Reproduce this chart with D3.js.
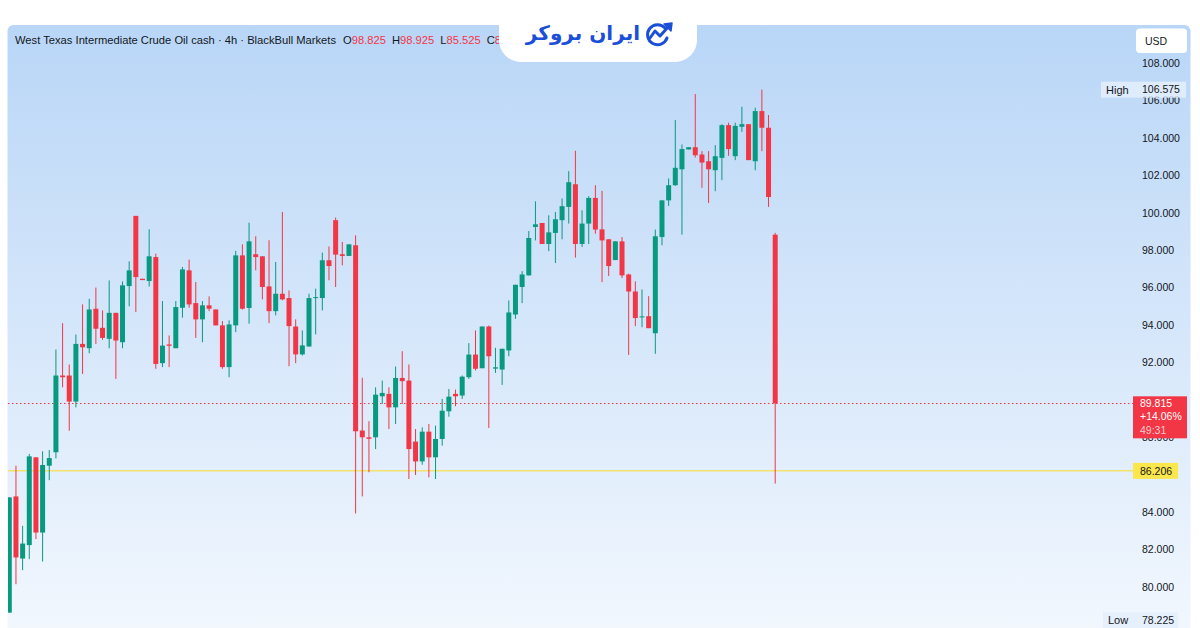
<!DOCTYPE html>
<html>
<head>
<meta charset="utf-8">
<script src="https://cdn.jsdelivr.net/npm/d3@7"></script>
<style>
html, body { margin: 0; padding: 0; background: #fff; }
svg { display: block; font-family: "Liberation Sans", Arial, sans-serif; }
</style>
</head>
<body>
<div id="chart"></div>
<script>
const width = 1200,
    height = 628;

// 4h candles (oldest first)
const opens = [78.63, 84.84, 81.52, 82.24, 86.93, 82.91, 86.48, 87.20, 91.30, 91.30,
    89.91, 92.99, 92.76, 94.87, 93.85, 93.26, 94.65, 93.08, 96.08, 99.83,
    96.47, 96.35, 97.63, 91.96, 92.96, 92.76, 94.92, 96.92, 95.17, 94.30,
    95.05, 94.83, 93.98, 91.75, 93.98, 97.72, 94.91, 97.78, 97.67, 96.06,
    94.74, 95.67, 95.44, 93.92, 92.43, 92.85, 95.44, 95.44, 97.46, 99.60,
    97.78, 97.69, 98.26, 88.36, 88.00, 88.00, 90.19, 90.32, 89.60, 91.17,
    91.03, 87.77, 86.71, 88.30, 86.93, 87.91, 89.39, 90.32, 90.23, 91.21,
    92.42, 91.69, 93.92, 91.67, 91.62, 92.64, 94.56, 96.03, 96.65, 99.24,
    99.45, 98.33, 98.92, 99.60, 100.31, 101.52, 98.33, 99.42, 100.79, 99.11,
    98.58, 97.47, 98.47, 96.70, 95.79, 94.42, 94.47, 93.56, 98.70, 100.66,
    101.47, 102.32, 103.38, 103.50, 103.11, 102.75, 102.27, 102.93, 104.68, 103.02,
    104.59, 104.73, 102.75, 105.43, 104.54, 98.825];
const highs = [84.79, 86.48, 83.27, 87.11, 86.93, 87.25, 87.32, 92.69, 94.10, 91.89,
    93.49, 95.10, 95.40, 96.00, 94.78, 96.38, 94.65, 96.33, 97.40, 99.83,
    96.47, 99.11, 97.81, 95.28, 93.44, 95.28, 97.10, 97.49, 96.30, 95.28,
    95.53, 94.83, 94.21, 94.25, 97.96, 98.31, 99.47, 98.74, 97.67, 98.53,
    97.37, 100.04, 95.85, 94.30, 93.71, 95.67, 95.94, 97.87, 98.20, 99.74,
    98.44, 98.31, 98.79, 91.18, 88.86, 90.67, 91.03, 90.67, 91.78, 92.60,
    91.89, 88.44, 88.53, 88.71, 88.62, 90.05, 90.58, 90.55, 91.30, 93.03,
    93.71, 93.92, 93.97, 92.78, 92.73, 95.31, 96.15, 96.88, 99.02, 100.61,
    99.45, 99.86, 100.04, 100.76, 102.22, 103.31, 100.13, 100.88, 101.47, 101.17,
    98.58, 98.47, 98.70, 96.74, 96.33, 95.90, 95.54, 99.10, 100.66, 101.83,
    104.95, 103.65, 103.50, 106.34, 103.29, 103.29, 103.61, 104.73, 104.81, 104.81,
    105.66, 104.73, 105.61, 106.575, 105.22, 98.925];
const lows = [78.63, 80.15, 80.90, 81.49, 82.56, 81.36, 85.71, 86.87, 90.67, 88.35,
    89.60, 91.39, 92.49, 92.99, 93.21, 92.76, 91.12, 92.76, 95.00, 94.69,
    96.40, 96.06, 91.66, 91.75, 91.75, 92.76, 94.39, 94.92, 93.31, 93.08,
    94.74, 93.98, 91.66, 91.21, 93.62, 94.82, 94.07, 96.92, 95.37, 94.10,
    94.51, 95.32, 91.80, 91.96, 92.37, 92.85, 93.50, 94.78, 96.39, 96.03,
    97.19, 97.69, 83.93, 84.84, 86.13, 87.37, 89.78, 88.44, 88.71, 89.78,
    85.77, 85.98, 86.53, 85.86, 85.77, 87.55, 89.10, 89.66, 90.05, 91.12,
    91.57, 91.69, 88.50, 91.44, 90.80, 92.33, 94.33, 95.17, 96.65, 98.52,
    98.33, 97.95, 97.31, 98.58, 99.42, 97.60, 98.17, 98.33, 98.88, 96.29,
    96.62, 97.47, 96.51, 92.40, 93.94, 93.88, 93.83, 92.46, 98.26, 100.36,
    101.43, 98.83, 103.38, 102.95, 101.33, 100.52, 101.15, 101.74, 103.04, 102.81,
    104.32, 102.81, 102.27, 103.29, 100.31, 85.525];
const closes = [84.79, 81.58, 82.32, 86.98, 82.91, 86.52, 86.89, 91.30, 91.21, 89.91,
    92.99, 92.81, 94.83, 93.80, 93.31, 94.65, 93.17, 96.12, 96.92, 96.56,
    96.40, 97.67, 91.92, 92.90, 92.89, 94.96, 96.97, 95.10, 94.30, 95.05,
    94.87, 93.98, 91.75, 94.03, 97.72, 94.87, 98.47, 97.63, 96.03, 94.74,
    95.67, 95.37, 93.94, 92.43, 92.91, 95.44, 95.49, 97.46, 97.15, 97.76,
    97.69, 98.31, 88.32, 88.00, 87.92, 90.28, 90.37, 89.60, 91.17, 91.00,
    87.37, 86.71, 88.30, 86.93, 87.91, 89.42, 90.17, 90.19, 91.24, 92.42,
    91.66, 93.92, 92.33, 91.74, 92.73, 94.67, 96.15, 96.70, 98.65, 99.38,
    98.33, 98.95, 99.65, 100.35, 101.63, 98.33, 99.42, 100.79, 99.10, 98.52,
    97.15, 98.47, 96.65, 95.79, 94.37, 94.46, 93.83, 98.74, 100.66, 101.47,
    102.40, 103.40, 103.50, 103.07, 102.68, 102.32, 103.02, 104.68, 103.40, 104.64,
    104.73, 102.81, 105.43, 104.54, 100.84, 89.815];

// 86 and 90 sit fully behind the price tags, so they are not drawn
const yTicks = [80, 82, 84, 88, 92, 94, 96, 98, 100, 102, 104, 106, 108];
const lastPrice = 89.815;
const lastChange = "+14.06%";
const countdown = "49:31";
const levelPrice = 86.206;
const highPrice = 106.575;
const lowPrice = 78.225;
const headerTitle = "West Texas Intermediate Crude Oil cash · 4h · BlackBull Markets";
const ohlcKeys = ["O", "H", "L", "C"];
const ohlcValues = ["98.825", "98.925", "85.525", "89.815"];

const up = "#089981", down = "#f23645";

let candles = opens.map((o, i) => ({ i: i, o: o, h: highs[i], l: lows[i], c: closes[i] }));

let svg = d3.select('#chart').append('svg')
    .attr('width', width)
    .attr('height', height);

let defs = svg.append('defs');
let grad = defs.append('linearGradient')
    .attr('id', 'bg')
    .attr('x1', 0).attr('y1', 0).attr('x2', 0).attr('y2', 1);
grad.append('stop').attr('offset', '0%').attr('stop-color', '#b9d6f7');
grad.append('stop').attr('offset', '100%').attr('stop-color', '#f5f9fe');

defs.append('clipPath').attr('id', 'plot')
    .append('rect').attr('x', 8).attr('y', 25).attr('width', 1125).attr('height', 603);

// the legend line runs in under the logo tab
defs.append('clipPath').attr('id', 'legend')
    .append('rect').attr('x', 0).attr('y', 25).attr('width', 499).attr('height', 40);

// panel
svg.append('rect')
    .attr('x', 7.5).attr('y', 25)
    .attr('width', 1183).attr('height', 640)
    .attr('rx', 6)
    .attr('fill', 'url(#bg)');

let x = d3.scaleBand()
    .domain(d3.range(candles.length))
    .range([5.97, 5.97 + candles.length * 6.66])
    .paddingInner(0.25)
    .paddingOuter(0.125);

let y = d3.scaleLinear()
    .domain([80, 108])
    .range([587, 63]);

let bw = x.bandwidth();

const tickFont = '"Liberation Sans", Arial, sans-serif';

// price axis
let axis = svg.append('g')
    .attr('transform', 'translate(1142,0)')
    .call(d3.axisRight(y).tickValues(yTicks).tickSize(0).tickPadding(0).tickFormat(d3.format('.3f')));
axis.select('.domain').remove();
axis.selectAll('text')
    .attr('fill', '#131722')
    .style('font-family', tickFont)
    .style('font-size', '10.5px');

let plot = svg.append('g').attr('clip-path', 'url(#plot)');

// yellow level
plot.append('line')
    .attr('x1', 8).attr('x2', 1133)
    .attr('y1', y(levelPrice)).attr('y2', y(levelPrice))
    .attr('stroke', '#f4e36a')
    .attr('stroke-width', 1.5);

// last price dotted line
plot.append('line')
    .attr('x1', 8).attr('x2', 1133)
    .attr('y1', Math.round(y(lastPrice)) + 0.5).attr('y2', Math.round(y(lastPrice)) + 0.5)
    .attr('stroke', down)
    .attr('stroke-dasharray', '1.5 2.5');

let bars = plot.append('g')
    .selectAll('g')
    .data(candles)
    .enter()
    .append('g')
    .attr('fill', d => d.c >= d.o ? up : down)
    .attr('stroke', d => d.c >= d.o ? up : down);

bars.append('line')
    .attr('x1', d => x(d.i) + bw / 2)
    .attr('x2', d => x(d.i) + bw / 2)
    .attr('y1', d => y(d.h))
    .attr('y2', d => y(d.l))
    .attr('stroke-width', 1);

bars.append('rect')
    .attr('x', d => x(d.i))
    .attr('y', d => y(Math.max(d.o, d.c)))
    .attr('width', bw)
    .attr('height', d => Math.max(1, Math.abs(y(d.o) - y(d.c))))
    .attr('stroke', 'none');

// labels on the price scale
function scaleTag(label, value, py, boxX, boxW) {
    svg.append('rect')
        .attr('x', boxX).attr('y', py - 8)
        .attr('width', boxW).attr('height', 16)
        .attr('fill', '#e4effc').attr('opacity', 0.85);
    svg.append('text')
        .attr('x', boxX + 5).attr('y', py).attr('dy', '0.35em')
        .attr('fill', '#131722').style('font-size', '11px')
        .text(label);
    svg.append('text')
        .attr('x', 1142).attr('y', py).attr('dy', '0.35em')
        .attr('fill', '#131722').style('font-size', '10.5px').style('font-family', tickFont)
        .text(value);
}
scaleTag('High', d3.format('.3f')(highPrice), y(highPrice), 1101, 85);
scaleTag('Low', d3.format('.3f')(lowPrice), y(lowPrice), 1103, 75);

// yellow level tag
svg.append('rect')
    .attr('x', 1133).attr('y', y(levelPrice) - 8)
    .attr('width', 45).attr('height', 16)
    .attr('fill', '#fbe64c');
svg.append('text')
    .attr('x', 1140).attr('y', y(levelPrice)).attr('dy', '0.35em')
    .attr('fill', '#131722').style('font-size', '10.5px').style('font-family', tickFont)
    .text(d3.format('.3f')(levelPrice));

// last price tag
let ly = y(lastPrice);
svg.append('rect')
    .attr('x', 1133).attr('y', ly - 7)
    .attr('width', 54).attr('height', 42)
    .attr('fill', down);
[[d3.format('.3f')(lastPrice), '#ffffff', 0], [lastChange, '#ffffff', 13.5], [countdown, '#fbc9cd', 27]]
    .forEach(function (t) {
        svg.append('text')
            .attr('x', 1140).attr('y', ly + t[2]).attr('dy', '0.35em')
            .attr('fill', t[1]).style('font-size', '10.5px').style('font-family', tickFont)
            .text(t[0]);
    });

// currency button
svg.append('rect')
    .attr('x', 1136).attr('y', 28.5)
    .attr('width', 51).attr('height', 24.5)
    .attr('rx', 4)
    .attr('fill', '#ffffff');
svg.append('text')
    .attr('x', 1145).attr('y', 41).attr('dy', '0.35em')
    .attr('fill', '#131722').style('font-size', '10.5px')
    .text('USD');

// legend header
let header = svg.append('text')
    .attr('x', 15).attr('y', 40).attr('dy', '0.35em')
    .attr('clip-path', 'url(#legend)')
    .style('font-size', '11.2px')
    .attr('fill', '#131722');
header.append('tspan').text(headerTitle);
ohlcKeys.forEach(function (k, i) {
    header.append('tspan').attr('dx', i === 0 ? 7 : 6).text(k);
    header.append('tspan').attr('fill', down).text(ohlcValues[i]);
});

// logo tab
svg.append('rect')
    .attr('x', 499).attr('y', -30)
    .attr('width', 198).attr('height', 92)
    .attr('rx', 22)
    .attr('fill', '#ffffff');

let logo = svg.append('g').attr('fill', '#1c4fd7').attr('stroke', '#1c4fd7');
logo.append('text')
    .attr('x', 640).attr('y', 40)
    .attr('text-anchor', 'end')
    .attr('stroke', 'none')
    .style('font-family', '"DejaVu Sans", sans-serif')
    .style('font-size', '20px')
    .style('font-weight', 'bold')
    .text('ایران بروکر');
logo.append('path')
    .attr('d', 'M665,28 A10,10 0 1 0 667,38')
    .attr('fill', 'none').attr('stroke-width', 3).attr('stroke-linecap', 'round');
logo.append('path')
    .attr('d', 'M650,38 L655,31 L660,36 L669,26')
    .attr('fill', 'none').attr('stroke-width', 3).attr('stroke-linecap', 'round').attr('stroke-linejoin', 'round');
logo.append('path')
    .attr('d', 'M664,24 L672,23 L671,31 Z')
    .attr('stroke-width', 1.5).attr('stroke-linejoin', 'round');
</script>
</body>
</html>
